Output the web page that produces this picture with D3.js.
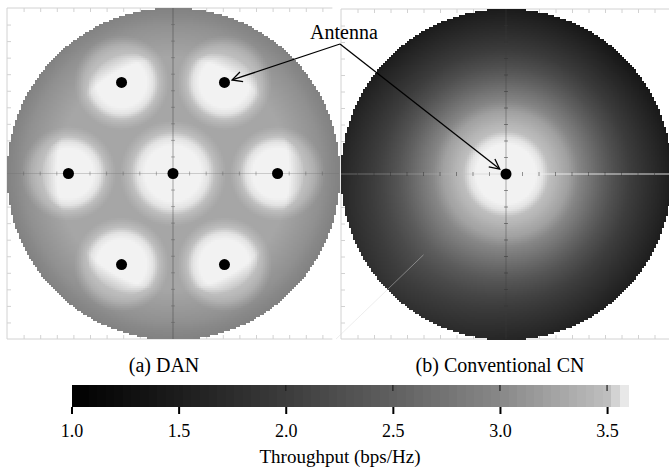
<!DOCTYPE html>
<html>
<head>
<meta charset="utf-8">
<script src="https://cdn.jsdelivr.net/npm/d3@7"></script>
<style>
  body { margin: 0; background: #fff; }
</style>
</head>
<body>
<svg id="chart"></svg>
<script>
var FONT = 'Liberation Serif, Times New Roman, Times, DejaVu Serif, serif';

// colour bar: throughput -> gray level
var thrStops = [1.0, 1.5, 2.0, 2.5, 3.0, 3.5, 3.6];
var grayStops = [0, 28, 60, 96, 136, 190, 242];
var barTicks = [1.0, 1.5, 2.0, 2.5, 3.0, 3.5];

// (a) DAN: antenna positions (disc radius = 1)
var danAntX = [0, -0.31, 0.31, -0.63, 0.63, -0.31, 0.31];
var danAntY = [0, 0.55, 0.55, 0, 0, -0.55, -0.55];
var danReach = [1.12, 1, 1, 1, 1, 1, 1];
// throughput vs (scaled) distance to the nearest antenna
var danDist = [0, 0.15, 0.19, 0.225, 0.255, 0.285, 1.2];
var danThr  = [3.6, 3.6, 3.57, 3.5, 3.38, 3.28, 3.25];
// loss near the border of the area
var edgeR    = [0, 0.7, 0.8, 0.9, 1.0];
var edgeDrop = [0, 0, -0.1, -0.2, -0.35];

// (b) conventional CN: one antenna at centre
var cnAntX = [0];
var cnAntY = [0];
var cnReach = [1];
var cnDist = [0, 0.18, 0.22, 0.26, 0.3, 0.38, 0.45, 0.55, 0.65, 0.75, 0.85, 1.0];
var cnThr  = [3.6, 3.6, 3.57, 3.5, 3.42, 3.22, 2.92, 2.57, 2.23, 1.95, 1.72, 1.4];
// extra throughput at the rim, by direction (degrees, y up)
var cnAng   = [0, 45, 90, 135, 180, 225, 270, 315, 360];
var cnBoost = [0.12, 0, 0.08, 0.1, 0.25, 0.45, 0.25, 0.15, 0.12];

var W = 669, H = 470;
var svg = d3.select('#chart').attr('width', W).attr('height', H);
svg.append('rect').attr('width', W).attr('height', H).attr('fill', '#fff');

var gray = d3.scaleLinear().domain(thrStops).range(grayStops).clamp(true);
function color(v) { var g = Math.round(gray(v)); return d3.rgb(g, g, g).toString(); }

var danProfile = d3.scaleLinear().domain(danDist).range(danThr).clamp(true);
var danEdge = d3.scaleLinear().domain(edgeR).range(edgeDrop).clamp(true);
var cnProfile = d3.scaleLinear().domain(cnDist).range(cnThr).clamp(true);
var cnDir = d3.scaleLinear().domain(cnAng).range(cnBoost);

function nearest(ax, ay, reach, x, y) {
  var best = 9;
  for (var i = 0; i < ax.length; i++) {
    var d = Math.hypot(x - ax[i], y - ay[i]) / reach[i];
    if (d < best) best = d;
  }
  return best;
}

function danValue(x, y) {
  var r = Math.hypot(x, y);
  return danProfile(nearest(danAntX, danAntY, danReach, x, y)) + danEdge(r);
}
function cnValue(x, y) {
  var r = Math.hypot(x, y);
  var a = Math.atan2(y, x) * 180 / Math.PI;
  if (a < 0) a += 360;
  var w = Math.max(0, r - 0.35) / 0.65;
  return cnProfile(nearest(cnAntX, cnAntY, cnReach, x, y)) + cnDir(a) * w;
}

function label(sel) { return sel.style('font-family', FONT).attr('fill', '#000'); }

function panel(opt) {
  var x = d3.scaleLinear().domain([-1, 1]).range([opt.x0, opt.x1]);
  var y = d3.scaleLinear().domain([-1, 1]).range([opt.y1, opt.y0]);
  var g = svg.append('g');
  var frameCol = '#d2d2d2';
  var tv = d3.range(-9, 10).map(function(d) { return d / 10; });

  // frame with small inward ticks
  g.append('path')
    .attr('d', 'M' + x(opt.fx1) + ',' + y(1) + 'H' + x(-1) + 'V' + y(-1) + 'H' + x(opt.fx1))
    .attr('fill', 'none').attr('stroke', frameCol);
  var fxv = tv.filter(function(d) { return x(d) < x(opt.fx1) - 2; });
  [[y(1), d3.axisTop(x)], [y(-1), d3.axisBottom(x)]].forEach(function(s) {
    var ax = g.append('g').attr('transform', 'translate(0,' + s[0] + ')')
      .call(s[1].tickValues(fxv).tickSizeInner(-4).tickSizeOuter(0).tickFormat(''));
    ax.select('.domain').remove();
    ax.selectAll('line').attr('stroke', frameCol);
  });
  var axl = g.append('g').attr('transform', 'translate(' + x(-1) + ',0)')
    .call(d3.axisLeft(y).tickValues(tv).tickSizeInner(-4).tickSizeOuter(0).tickFormat(''));
  axl.select('.domain').remove();
  axl.selectAll('line').attr('stroke', frameCol);

  // heat map cells
  var cells = [];
  var step = 2;
  for (var px = opt.x0; px < opt.x1; px += step) {
    for (var py = opt.y0; py < opt.y1; py += step) {
      var dx = x.invert(px + step / 2), dy = y.invert(py + step / 2);
      if (dx * dx + dy * dy <= 1) cells.push({ px: px, py: py, v: opt.value(dx, dy) });
    }
  }
  g.append('g').attr('shape-rendering', 'crispEdges')
    .selectAll('rect').data(cells).join('rect')
    .attr('x', function(d) { return d.px; })
    .attr('y', function(d) { return d.py; })
    .attr('width', step + 0.5).attr('height', step + 0.5)
    .attr('fill', function(d) { return color(d.v); });

  // cross hair through the centre
  g.append('line').attr('x1', x(0)).attr('x2', x(0)).attr('y1', y(1)).attr('y2', y(-1))
    .attr('stroke', opt.vCol).attr('stroke-width', 1);
  opt.hSegs.forEach(function(s) {
    g.append('line').attr('x1', x(s[0])).attr('x2', x(s[1])).attr('y1', y(0)).attr('y2', y(0))
      .attr('stroke', s[2]).attr('stroke-width', 1);
  });
  g.selectAll('.vt').data(tv.filter(function(d) { return d !== 0; })).join('line')
    .attr('x1', x(0) - 2).attr('x2', x(0) + 2)
    .attr('y1', function(d) { return y(d); }).attr('y2', function(d) { return y(d); })
    .attr('stroke', opt.tickCol);
  g.selectAll('.ht').data(tv.filter(function(d) { return d !== 0; })).join('line')
    .attr('y1', y(0) - 2).attr('y2', y(0) + 2)
    .attr('x1', function(d) { return x(d); }).attr('x2', function(d) { return x(d); })
    .attr('stroke', opt.tickCol);

  // antennas
  g.selectAll('circle').data(opt.antX).join('circle')
    .attr('cx', function(d) { return x(d); })
    .attr('cy', function(d, i) { return y(opt.antY[i]); })
    .attr('r', 5.5).attr('fill', '#000');

  label(g.append('text')).attr('x', opt.capX).attr('y', 372).attr('text-anchor', 'middle')
    .attr('font-size', 20).text(opt.caption);
  return { x: x, y: y };
}

var left = panel({
  x0: 7, x1: 339, y0: 8, y1: 339, fx1: 0.96,
  value: danValue, antX: danAntX, antY: danAntY,
  vCol: 'rgba(60,60,60,0.45)', hSegs: [[-1, 1, 'rgba(110,110,110,0.3)']],
  tickCol: 'rgba(90,90,90,0.45)', caption: '(a) DAN', capX: 164
});

var right = panel({
  x0: 341, x1: 671, y0: 9, y1: 339, fx1: 1,
  value: cnValue, antX: cnAntX, antY: cnAntY,
  vCol: 'rgba(60,60,60,0.4)',
  hSegs: [[-1, 0, 'rgba(190,190,190,0.4)'], [0, 1, 'rgba(238,238,238,0.9)']],
  tickCol: 'rgba(50,50,50,0.5)', caption: '(b) Conventional CN', capX: 500
});

// faint diagonal artefact in (b)
svg.append('line')
  .attr('x1', right.x(-1.03)).attr('y1', right.y(-1.0))
  .attr('x2', right.x(-0.5)).attr('y2', right.y(-0.49))
  .attr('stroke', 'rgba(215,215,215,0.45)');

// "Antenna" annotation
var defs = svg.append('defs');
defs.append('marker').attr('id', 'arr').attr('viewBox', '0 0 12 12')
  .attr('refX', 11).attr('refY', 6).attr('markerWidth', 12).attr('markerHeight', 12)
  .attr('markerUnits', 'userSpaceOnUse').attr('orient', 'auto')
  .append('path').attr('d', 'M1,1 L11,6 L1,11').attr('fill', 'none')
  .attr('stroke', '#000').attr('stroke-width', 1.3);

label(svg.append('text')).attr('x', 344).attr('y', 39).attr('text-anchor', 'middle')
  .attr('font-size', 20).text('Antenna');
var ox = 340, oy = 44;
[[left, 0.31, 0.55], [right, 0, 0]].forEach(function(t) {
  var tx = t[0].x(t[1]), ty = t[0].y(t[2]);
  var dx = tx - ox, dy = ty - oy, L = Math.hypot(dx, dy);
  var k = (L - 8) / L;
  svg.append('line').attr('x1', ox).attr('y1', oy)
    .attr('x2', ox + dx * k).attr('y2', oy + dy * k)
    .attr('stroke', '#000').attr('stroke-width', 1.3).attr('marker-end', 'url(#arr)');
});

// colour bar
var cb = d3.scaleLinear().domain([1.0, 3.6]).range([71.5, 628.5]);
var barTop = 385, barH = 22;
var bandStep = 0.04;
var bands = d3.range(1.0, 3.6 - 1e-9, bandStep);
svg.append('g').attr('shape-rendering', 'crispEdges')
  .selectAll('rect').data(bands).join('rect')
  .attr('x', function(d) { return cb(d); })
  .attr('width', function(d) { return cb(Math.min(d + bandStep, 3.6)) - cb(d) + 0.6; })
  .attr('y', barTop).attr('height', barH)
  .attr('fill', function(d) { return color(d + bandStep / 2); });

var cbAxis = svg.append('g').attr('transform', 'translate(0,' + (barTop + barH) + ')')
  .call(d3.axisBottom(cb).tickValues(barTicks).tickSizeInner(7).tickSizeOuter(0).tickPadding(10)
    .tickFormat(d3.format('.1f')));
cbAxis.attr('font-family', null).attr('font-size', 18);
cbAxis.select('.domain').remove();
cbAxis.selectAll('line').attr('stroke', '#000').attr('stroke-width', 2);
label(cbAxis.selectAll('text'));

svg.append('g').selectAll('line').data(barTicks.slice(1)).join('line')
  .attr('x1', function(d) { return cb(d); }).attr('x2', function(d) { return cb(d); })
  .attr('y1', barTop).attr('y2', barTop + 6)
  .attr('stroke', 'rgba(30,30,30,0.8)').attr('stroke-width', 1.5);

label(svg.append('text')).attr('x', 340).attr('y', 463).attr('text-anchor', 'middle')
  .attr('font-size', 19).text('Throughput (bps/Hz)');
</script>
</body>
</html>
